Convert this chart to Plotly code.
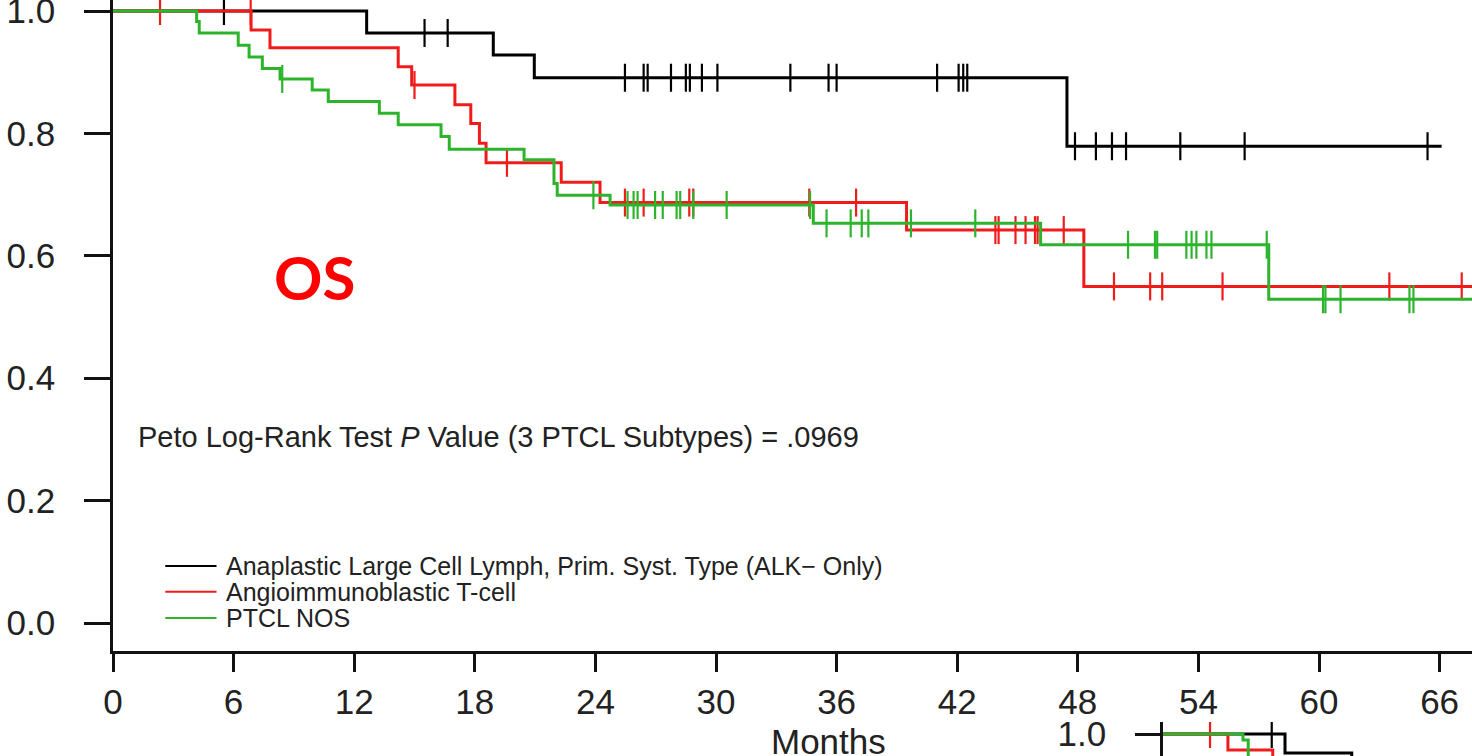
import numpy as np
import plotly.graph_objects as go

# ---------------- Overall survival (months) by PTCL subtype ----------------
# Kaplan-Meier step changes: time of each step and the survival level after it
alcl_times = [0, 12.62, 18.92, 20.96, 47.46]
alcl_surv = [1.0, 0.964, 0.928, 0.891, 0.779]
alcl_end = 66.1
alcl_censor = [5.52, 15.5, 16.65, 25.47, 26.4, 26.6, 27.76, 28.5, 28.7, 29.3,
               30.07, 33.7, 35.6, 36.0, 41.0, 42.07, 42.3, 42.5, 47.86, 48.9,
               49.7, 50.4, 53.1, 56.3, 65.4]

aitl_times = [0, 6.87, 7.81, 14.19, 14.86, 17.01, 17.8, 18.23, 18.56, 22.3,
              24.23, 39.48, 48.3]
aitl_surv = [1.0, 0.969, 0.94, 0.909, 0.879, 0.847, 0.816, 0.784, 0.752, 0.72,
             0.687, 0.642, 0.55]
aitl_end = 68.5
aitl_censor = [2.34, 6.85, 15.0, 19.6, 25.47, 26.4, 28.67, 28.87, 34.64, 36.97,
               43.9, 44.06, 44.9, 45.4, 45.87, 46.0, 47.3, 49.8, 51.6, 52.2,
               55.2, 63.5, 67.1]

nos_times = [0, 4.16, 4.29, 6.23, 6.77, 7.43, 8.31, 9.91, 10.71, 13.25, 14.19,
             16.32, 16.73, 20.45, 21.94, 22.1, 24.73, 34.84, 46.15, 57.5]
nos_surv = [1.0, 0.983, 0.964, 0.944, 0.925, 0.906, 0.889, 0.871, 0.852, 0.833,
            0.814, 0.795, 0.774, 0.757, 0.718, 0.699, 0.683, 0.653, 0.618, 0.529]
nos_end = 68.5
nos_censor = [8.42, 23.9, 25.6, 25.9, 26.1, 26.97, 27.35, 28.04, 28.22, 28.87,
              30.53, 34.68, 35.5, 36.7, 37.25, 37.58, 39.7, 42.9, 50.5, 51.84,
              51.95, 53.4, 53.66, 53.9, 54.4, 54.65, 57.4, 60.2, 60.32, 61.07,
              64.5, 64.7]

# ---------------- Progression-free panel underneath (top edge only) ----------------
pfs_alcl_times = [0, 6.07, 9.39]
pfs_alcl_surv = [1.0, 0.969, 0.93]
pfs_alcl_censor = [5.41]
pfs_aitl_times = [0, 3.23, 5.46]
pfs_aitl_surv = [1.0, 0.974, 0.94]
pfs_aitl_censor = [2.34]
pfs_nos_times = [0, 3.98, 4.24]
pfs_nos_surv = [1.0, 0.99, 0.95]
pfs_end = 16.0

series_names = ["Anaplastic Large Cell Lymph, Prim. Syst. Type (ALK\u2212 Only)",
                "Angioimmunoblastic T-cell",
                "PTCL NOS"]
series_colors = ["#000000", "#f01c1c", "#2cb52c"]

month_ticks = list(range(0, 67, 6))
surv_ticks = [0.0, 0.2, 0.4, 0.6, 0.8, 1.0]
pvalue_text = "Peto Log-Rank Test <i>P</i> Value (3 PTCL Subtypes) = .0969"
panel_label = "OS"

FONT = "Liberation Sans, Arial, Helvetica, sans-serif"
W, H = 1472, 756
PX_PER_MONTH = 20.1
PX_PER_UNIT = 612.0


def level_at(times, surv, t):
    i = int(np.searchsorted(times, t, side="right")) - 1
    return surv[max(i, 0)]


fig = go.Figure()


def add_curve(times, surv, end, censor, color, xa, ya):
    fig.add_trace(go.Scatter(
        x=list(times) + [end], y=list(surv) + [surv[-1]],
        mode="lines", line=dict(color=color, width=3, shape="hv"),
        showlegend=False, hoverinfo="skip", xaxis=xa, yaxis=ya))
    if censor:
        fig.add_trace(go.Scatter(
            x=censor, y=[level_at(times, surv, c) for c in censor],
            mode="markers",
            marker=dict(symbol="line-ns", size=20,
                        line=dict(color=color, width=2.2)),
            showlegend=False, hoverinfo="skip", xaxis=xa, yaxis=ya))


# main panel: black, then red, then green on top
add_curve(alcl_times, alcl_surv, alcl_end, alcl_censor, series_colors[0], "x", "y")
add_curve(aitl_times, aitl_surv, aitl_end, aitl_censor, series_colors[1], "x", "y")
add_curve(nos_times, nos_surv, nos_end, nos_censor, series_colors[2], "x", "y")

# lower panel
add_curve(pfs_alcl_times, pfs_alcl_surv, pfs_end, pfs_alcl_censor, series_colors[0], "x2", "y2")
add_curve(pfs_aitl_times, pfs_aitl_surv, pfs_end, pfs_aitl_censor, series_colors[1], "x2", "y2")
add_curve(pfs_nos_times, pfs_nos_surv, pfs_end, [], series_colors[2], "x2", "y2")

# ---------------- geometry ----------------
x0_px = 113          # month 0
y1_px = 11           # survival 1.0
y0_px = 623          # survival 0.0
xaxis_px = 651       # bottom axis line

main_x_range = [0, (W - x0_px) / PX_PER_MONTH]
main_y_range = [-(xaxis_px - y0_px) / PX_PER_UNIT, 1 + y1_px / PX_PER_UNIT]

p_x0 = 1163
p_top = 722
p_one = 734
p_x_range = [0, (W - p_x0) / PX_PER_MONTH]
p_y_range = [1 - (H - p_one) / PX_PER_UNIT, 1 + (p_one - p_top) / PX_PER_UNIT]

axis_font = dict(family=FONT, size=35, color="#222")
common = dict(showgrid=False, zeroline=False, automargin=False,
              ticklabeloverflow="allow", tickcolor="#111", tickwidth=2.5,
              linecolor="#111", linewidth=2.5, tickfont=axis_font)

fig.update_layout(
    width=W, height=H,
    margin=dict(l=0, r=0, t=0, b=0, pad=0),
    paper_bgcolor="white", plot_bgcolor="white",
    showlegend=False,
    xaxis=dict(domain=[x0_px / W, 1], range=main_x_range,
               tickvals=month_ticks, ticktext=[str(v) for v in month_ticks],
               ticks="outside", ticklen=18, showline=True,
               ticklabelstandoff=0, anchor="y", **common),
    yaxis=dict(domain=[(H - xaxis_px) / H, 1], range=main_y_range,
               tickvals=surv_ticks, ticktext=[f"{v:.1f}" for v in surv_ticks],
               ticks="outside", ticklen=26, showline=True,
               ticklabelstandoff=22, anchor="x", **common),
    xaxis2=dict(domain=[p_x0 / W, 1], range=p_x_range, visible=False,
                anchor="y2", automargin=False),
    yaxis2=dict(domain=[0, (H - p_top) / H], range=p_y_range,
                tickvals=[1.0], ticktext=["1.0"],
                ticks="outside", ticklen=25, showline=True,
                ticklabelstandoff=22, anchor="x2", **common),
)

# axis title
fig.add_annotation(text="Months", xref="x", yref="paper",
                   x=(828 - x0_px) / PX_PER_MONTH, y=(H - 741) / H,
                   xanchor="center", yanchor="middle", showarrow=False,
                   font=dict(family=FONT, size=35, color="#222"))

# p-value note
fig.add_annotation(text=pvalue_text, xref="x", yref="y",
                   x=1.15, y=0.304, xanchor="left", yanchor="middle",
                   showarrow=False, font=dict(family=FONT, size=29, color="#222"))

# panel label
fig.add_annotation(text=f"<b>{panel_label}</b>", xref="x", yref="y",
                   x=10.0, y=0.566, xanchor="center", yanchor="middle",
                   showarrow=False,
                   font=dict(family="Lato, Open Sans, sans-serif", size=60,
                             color="#ff0000"))

# legend key
legend_y = [0.093, 0.051, 0.008]
for name, color, ly in zip(series_names, series_colors, legend_y):
    fig.add_shape(type="line", xref="x", yref="y", x0=2.6, x1=5.15, y0=ly, y1=ly,
                  line=dict(color=color, width=2))
    fig.add_annotation(text=name, xref="x", yref="y", x=5.5, y=ly,
                       xanchor="left", yanchor="middle", showarrow=False,
                       font=dict(family=FONT, size=25, color="#222"))

fig.write_html("out.html")
